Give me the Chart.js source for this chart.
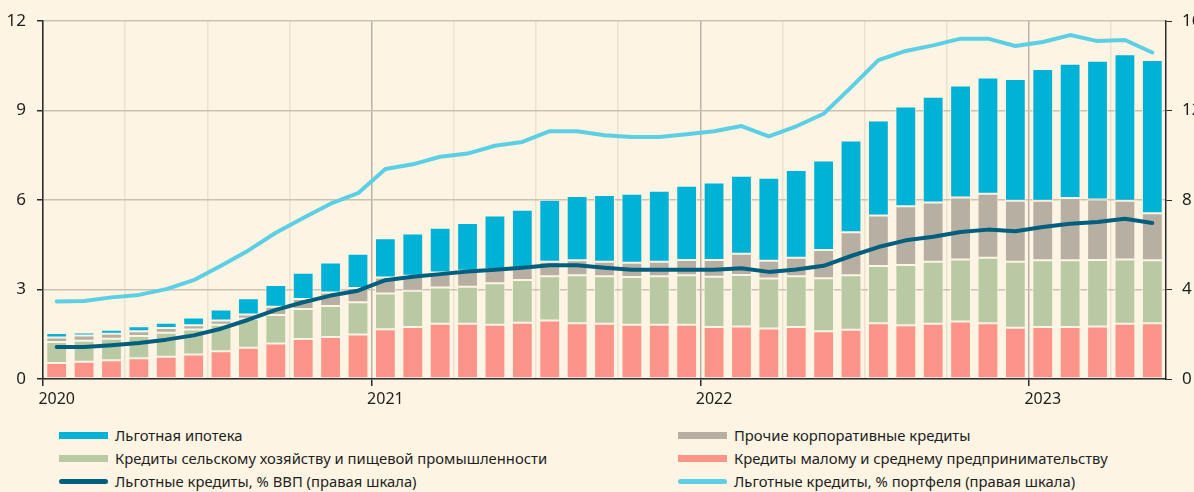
<!DOCTYPE html>
<html lang="ru">
<head>
<meta charset="utf-8">
<script src="https://cdn.jsdelivr.net/npm/chart.js@4"></script>
<style>
  html, body { margin: 0; padding: 0; background: #fdf4e3; }
  body { width: 1194px; height: 492px; position: relative; overflow: hidden;
         font-family: "Noto Sans", sans-serif; color: #1e1e1e; }
  #chart { position: absolute; left: 0; top: 0; }
  .legend-item { position: absolute; font-size: 14.8px; line-height: 20px; white-space: nowrap; }
  .legend-item .sw { position: absolute; left: -56px; top: 7px; width: 49px; height: 7px; }
  .legend-item .sw.line { height: 5px; top: 8px; border-radius: 3px; }
</style>
</head>
<body>
<canvas id="chart" width="1194" height="415"></canvas>
<div id="legend"></div>
<script>
// месяцы: январь 2020 - май 2023
const years = ["2020", "2021", "2022", "2023"];

// трлн руб. (левая шкала)
const smeLoans = [0.54, 0.58, 0.63, 0.70, 0.75, 0.82, 0.93, 1.05, 1.19, 1.34, 1.41, 1.49,
  1.67, 1.74, 1.85, 1.85, 1.82, 1.89, 1.96, 1.87, 1.85, 1.82, 1.82, 1.82,
  1.74, 1.76, 1.69, 1.74, 1.60, 1.65, 1.87, 1.80, 1.85, 1.93, 1.87, 1.72,
  1.74, 1.74, 1.76, 1.85, 1.87];
const agroLoans = [0.70, 0.70, 0.72, 0.74, 0.80, 0.84, 0.89, 0.97, 0.96, 1.01, 1.04, 1.08,
  1.20, 1.22, 1.22, 1.24, 1.39, 1.43, 1.49, 1.61, 1.60, 1.60, 1.63, 1.66,
  1.69, 1.73, 1.68, 1.71, 1.78, 1.83, 1.92, 2.02, 2.08, 2.08, 2.20, 2.21,
  2.24, 2.24, 2.23, 2.16, 2.11];
const otherCorp = [0.15, 0.18, 0.17, 0.16, 0.16, 0.14, 0.14, 0.14, 0.27, 0.33, 0.45, 0.48,
  0.53, 0.50, 0.50, 0.54, 0.47, 0.40, 0.48, 0.50, 0.48, 0.48, 0.48, 0.51,
  0.56, 0.71, 0.60, 0.62, 0.95, 1.44, 1.69, 1.97, 1.99, 2.08, 2.14, 2.05,
  2.00, 2.09, 2.03, 1.97, 1.58];
const mortgage = [0.15, 0.10, 0.13, 0.17, 0.18, 0.26, 0.37, 0.55, 0.73, 0.88, 1.01, 1.15,
  1.32, 1.42, 1.50, 1.60, 1.80, 1.96, 2.08, 2.16, 2.24, 2.31, 2.38, 2.49,
  2.60, 2.62, 2.78, 2.94, 3.00, 3.08, 3.19, 3.35, 3.55, 3.75, 3.90, 4.08,
  4.42, 4.50, 4.65, 4.91, 5.14];

// % (правая шкала)
const shareGdp = [1.43, 1.43, 1.51, 1.61, 1.76, 1.95, 2.25, 2.65, 3.09, 3.43, 3.73, 3.95,
  4.42, 4.57, 4.69, 4.81, 4.89, 4.98, 5.09, 5.09, 4.98, 4.89, 4.89, 4.89,
  4.89, 4.95, 4.79, 4.90, 5.06, 5.50, 5.90, 6.20, 6.36, 6.57, 6.68, 6.61,
  6.80, 6.94, 7.02, 7.17, 6.98];
const sharePortfolio = [3.47, 3.49, 3.65, 3.76, 4.02, 4.42, 5.06, 5.75, 6.54, 7.20, 7.84, 8.31,
  9.39, 9.60, 9.94, 10.08, 10.43, 10.60, 11.08, 11.08, 10.90, 10.82, 10.82, 10.94,
  11.08, 11.31, 10.85, 11.30, 11.86, 13.04, 14.26, 14.67, 14.92, 15.22, 15.22, 14.89,
  15.07, 15.38, 15.11, 15.16, 14.60];

const bg = "#fdf4e3";
const axisColor = "#2b2b2b";
const fontFamily = '"Noto Sans", sans-serif';

// точки по центру месяца
const pts = (arr) => arr.map((v, i) => ({ x: i + 0.5, y: v }));

const barDs = (label, arr, color) => ({
  type: "bar",
  label: label,
  data: pts(arr),
  backgroundColor: color,
  borderColor: bg,
  borderWidth: 1,
  borderSkipped: false,
  yAxisID: "y",
  order: 1,
  barPercentage: 0.76,
  categoryPercentage: 1
});

const lineDs = (label, arr, color) => ({
  type: "line",
  label: label,
  data: pts(arr),
  borderColor: color,
  backgroundColor: color,
  borderWidth: 4,
  borderCapStyle: "round",
  borderJoinStyle: "round",
  pointRadius: 0,
  tension: 0,
  yAxisID: "y1",
  order: 0
});

const datasets = [
  lineDs("Льготные кредиты, % ВВП (правая шкала)", shareGdp, "#005f7e"),
  lineDs("Льготные кредиты, % портфеля (правая шкала)", sharePortfolio, "#5ccfe4"),
  barDs("Кредиты малому и среднему предпринимательству", smeLoans, "#fc948a"),
  barDs("Кредиты сельскому хозяйству и пищевой промышленности", agroLoans, "#b8c9a3"),
  barDs("Прочие корпоративные кредиты", otherCorp, "#b8afa3"),
  barDs("Льготная ипотека", mortgage, "#00b2d5")
];

const ctx = document.getElementById("chart").getContext("2d");
const myChart = new Chart(ctx, {
  data: { datasets: datasets },
  options: {
    responsive: false,
    animation: false,
    layout: { padding: { top: 18, left: 0, right: 0, bottom: 0 } },
    plugins: { legend: { display: false }, tooltip: { enabled: false } },
    scales: {
      x: {
        type: "linear",
        offset: false,
        min: 0,
        max: smeLoans.length,
        stacked: true,
        border: { color: axisColor, width: 1.5 },
        grid: {
          offset: false,
          color: (c) => (c.tick && c.tick.value % 12 === 0 ? "#b9b1a5" : "#ebe2cf"),
          lineWidth: 1.5,
          tickLength: 7,
          tickColor: (c) => (c.tick && c.tick.value % 12 === 0 ? axisColor : "rgba(0,0,0,0)"),
          tickWidth: 1.5
        },
        ticks: {
          stepSize: 3,
          includeBounds: false,
          autoSkip: false,
          maxRotation: 0,
          labelOffset: 13.7,
          padding: 4,
          color: "#1e1e1e",
          font: { family: fontFamily, size: 16 },
          callback: (v) => (v % 12 === 0 ? years[v / 12] : "")
        },
        afterFit: (s) => { s.height = 415 - 379; }
      },
      y: {
        position: "left",
        stacked: true,
        min: 0,
        max: 12,
        border: { color: axisColor, width: 1.5 },
        grid: { color: "#c9c1b4", lineWidth: 1.5, tickLength: 6, tickColor: axisColor },
        ticks: { stepSize: 3, padding: 11, color: "#1e1e1e", font: { family: fontFamily, size: 17 } },
        afterFit: (s) => { s.width = 43; }
      },
      y1: {
        position: "right",
        min: 0,
        max: 16,
        border: { color: axisColor, width: 1.5 },
        grid: { drawOnChartArea: false, tickLength: 6, tickColor: axisColor },
        ticks: { stepSize: 4, padding: 10, color: "#1e1e1e", font: { family: fontFamily, size: 17 } },
        afterFit: (s) => { s.width = 1194 - 1166; }
      }
    }
  }
});

// легенда в два столбца
const legendOrder = [
  [5, 59, 425], [4, 678, 425],
  [3, 59, 448], [2, 678, 448],
  [0, 59, 471], [1, 678, 471]
];
const legendBox = document.getElementById("legend");
legendOrder.forEach(([i, x, y]) => {
  const ds = datasets[i];
  const item = document.createElement("div");
  item.className = "legend-item";
  item.style.left = (x + 56) + "px";
  item.style.top = y + "px";
  const sw = document.createElement("span");
  sw.className = ds.type === "line" ? "sw line" : "sw";
  sw.style.background = ds.type === "line" ? ds.borderColor : ds.backgroundColor;
  item.appendChild(sw);
  item.appendChild(document.createTextNode(ds.label));
  legendBox.appendChild(item);
});
</script>
</body>
</html>
